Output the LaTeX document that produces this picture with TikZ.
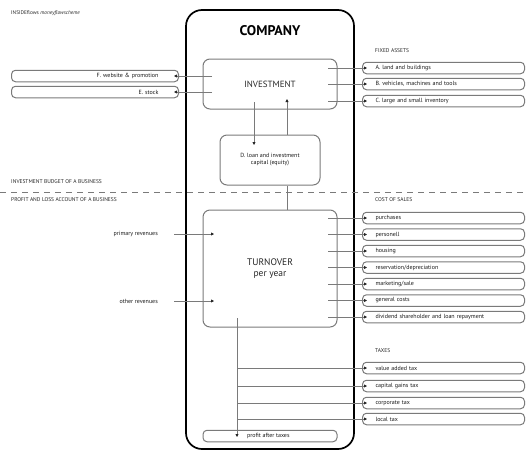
\documentclass[tikz,border=0pt]{standalone}
\usepackage{fontspec}
\setmainfont{PT Sans}
\usetikzlibrary{arrows.meta}
\definecolor{lg}{HTML}{7A7A7A}
\tikzset{
  small/.style={font=\fontsize{6}{7}\selectfont, text=black!90},
  head/.style={font=\fontsize{5.5}{6.5}\selectfont, text=black!85, anchor=west, inner sep=0pt},
  rbox/.style={draw=lg, line width=1pt, rounded corners=4pt, minimum height=11.5pt, text width=162pt, inner xsep=0pt, inner ysep=0pt, align=left, anchor=west, small},
  lbox/.style={draw=lg, line width=1pt, rounded corners=4pt, minimum height=11.5pt, text width=167pt, inner xsep=0pt, inner ysep=0pt, align=right, anchor=west, small},
  ibox/.style={draw=lg, line width=1pt, rounded corners=7pt},
  flow/.style={draw=lg, line width=0.75pt},
  tip/.style={-{Triangle[length=3pt,width=3pt,color=black!85]}, flow}
}
\begin{document}
\begin{tikzpicture}[x=1pt,y=-1pt]
\useasboundingbox (0,0) rectangle (526,453);
% title
\node[anchor=west, inner sep=0pt, font=\fontsize{5.3}{6}\selectfont, text=black!85] (title) at (11,13) {INSIDEflows \textit{moneyflowscheme}};
% company
\node[draw=black, line width=1.7pt, rounded corners=16pt, minimum width=168pt, minimum height=439pt, inner sep=0pt] (company) at (270,229.5) {};
\node[font=\bfseries\fontsize{14}{16}\selectfont] (comptitle) at (270,31) {COMPANY};
% investment
\node[ibox, minimum width=134pt, minimum height=50pt] (inv) at (270,84) {};
\node[font=\fontsize{9}{10}\selectfont, text=black!85] (invtext) at (270,84) {INVESTMENT};
% D box
\node[ibox, minimum width=100pt, minimum height=50pt, align=center, small] (dbox) at (270,160) {D. loan and investment\\capital (equity)};
% turnover
\node[ibox, minimum width=134pt, minimum height=117pt, align=center, font=\fontsize{9.5}{11}\selectfont, text=black!85] (turn) at (270,268.5) {TURNOVER\\per year};
% profit
\node[draw=lg, line width=1pt, rounded corners=4pt, minimum width=134pt, minimum height=11.5pt, inner sep=0pt] (profit) at (270,436) {};
\node[small, anchor=west, inner sep=0pt] (profittext) at (247,436) {profit after taxes};
% dashed separator
\coordinate (dl) at (0,192);
\coordinate (dr) at (526,192);
\draw[lg, line width=0.8pt, dash pattern=on 6pt off 5pt] (dl) -- (dr);
\node[head] (ib) at (11,182) {INVESTMENT BUDGET OF A BUSINESS};
\node[head] (pl) at (11,200) {PROFIT AND LOSS ACCOUNT OF A BUSINESS};
% investment <-> D
\coordinate (invdown) at (254,102);
\coordinate (ddown) at (254,145);
\draw[tip] (invdown) -- (ddown);
\coordinate (invup) at (287,99);
\draw[tip] (dbox.north -| invup) -- (invup);
\draw[flow] (turn.north -| invup) -- (dbox.south -| invup);
% left boxes
\node[lbox] (f) at (11,76) {F. website \& promotion\hspace*{20pt}};
\node[lbox] (e) at (11,92) {E. stock\hspace*{20pt}};
\coordinate (fs) at (212,76);
\coordinate (es) at (212,92);
\draw[tip] (fs) -- ([xshift=-5pt]f.east);
\draw[tip] (es) -- ([xshift=-5pt]e.east);
% fixed assets
\node[head] (fa) at (375,51) {FIXED ASSETS};
\foreach \n/\y/\t in {a/68/{A. land and buildings}, b/84/{B. vehicles, machines and tools}, c/101/{C. large and small inventory}}{
  \node[rbox] (\n) at (362,\y) {\hspace*{13pt}\t};
  \coordinate (\n s) at (328,\y);
  \draw[tip] (\n s) -- ([xshift=5pt]\n.west);
}
% cost of sales
\node[head] (cs) at (375,200) {COST OF SALES};
\foreach \n/\y/\t in {c1/218/{purchases}, c2/234.5/{personell}, c3/251/{housing}, c4/267.5/{reservation/depreciation}, c5/284/{marketing/sale}, c6/300.5/{general costs}, c7/317/{dividend shareholder and loan repayment}}{
  \node[rbox] (\n) at (362,\y) {\hspace*{13pt}\t};
  \coordinate (\n s) at (328,\y);
  \draw[tip] (\n s) -- ([xshift=5pt]\n.west);
}
% revenues
\node[small, anchor=east, inner sep=0pt] (pr) at (158,234) {primary revenues};
\node[small, anchor=east, inner sep=0pt] (or) at (158,301) {other revenues};
\coordinate (prs) at (174,234);
\coordinate (prt) at (214,234);
\coordinate (ors) at (174,301);
\coordinate (ort) at (214,301);
\draw[tip] (prs) -- (prt);
\draw[tip] (ors) -- (ort);
% turnover down to profit
\coordinate (tdown) at (237,318);
\coordinate (pdown) at (237,437);
\draw[tip] (tdown) -- (pdown);
% taxes
\node[head] (tx) at (375,351) {TAXES};
\foreach \n/\y/\t in {t1/368/{value added tax}, t2/386/{capital gains tax}, t3/403/{corporate tax}, t4/419/{local tax}}{
  \node[rbox] (\n) at (362,\y) {\hspace*{13pt}\t};
  \coordinate (\n s) at (237,\y);
  \draw[tip] (\n s) -- ([xshift=5pt]\n.west);
}
\end{tikzpicture}
\end{document}
